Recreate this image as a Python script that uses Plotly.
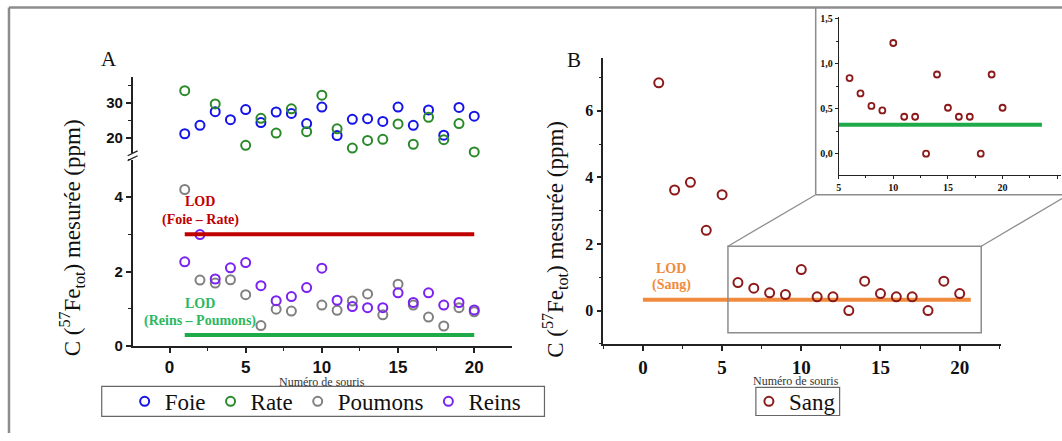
import plotly.graph_objects as go

W, H = 1062, 441

# ---------------- data ----------------
mice = list(range(1, 21))
foie = [21.2, 23.6, 27.5, 25.2, 28.1, 24.4, 27.4, 27.0, 24.1, 28.8,
        20.7, 25.3, 25.5, 24.7, 28.8, 23.6, 28.0, 20.8, 28.7, 26.2]
rate = [33.5, None, 29.7, None, 17.9, 25.6, 21.4, 28.3, 21.8, 32.2,
        22.6, 17.1, 19.3, 19.6, 24.0, 18.2, 25.9, 19.5, 24.1, 16.0]
poumons = [4.2, 1.77, 1.69, 1.78, 1.38, 0.55, 0.99, 0.94, None, 1.10,
           0.96, 1.21, 1.40, 0.84, 1.66, 1.10, 0.78, 0.54, 1.03, 0.92]
reins = [2.26, 2.99, 1.80, 2.10, 2.24, 1.62, 1.22, 1.33, 1.57, 2.09,
         1.23, 1.06, 1.03, 1.03, 1.43, 1.17, 1.43, 1.10, 1.17, 0.97]
sang = [6.84, 3.62, 3.85, 2.41, 3.48, 0.84, 0.67, 0.53, 0.48, 1.23,
        0.41, 0.41, 0.0, 0.88, 0.51, 0.41, 0.41, 0.0, 0.88, 0.51]
inset_mice = mice[5:]
inset_sang = sang[5:]

lod_foie_rate = 3.0
lod_reins_poumons = 0.3
lod_sang = 0.32
lod_x_A = [1, 20]
lod_x_B = [0, 20.7]
lod_x_inset = [5, 23.6]

x_ticks = [0, 5, 10, 15, 20]
yA_low_ticks = [0, 2, 4]
yA_up_ticks = [20, 30]
yB_ticks = [0, 2, 4, 6]
inset_xticks = [5, 10, 15, 20, 25]
inset_yticks = [0, 0.5, 1.0, 1.5]
inset_yticktext = ["0,0", "0,5", "1,0", "1,5"]

# ---------------- helpers ----------------
def PX(x):
    return x / W

def PY(y):
    return 1 - y / H

def bold(vals):
    return ["<b>%s</b>" % v for v in vals]

SERIF = "Liberation Serif"
SANS = "Liberation Sans"

C_FOIE = "#1414e8"
C_RATE = "#2a8a2a"
C_POUM = "#808080"
C_REIN = "#7a22f0"
C_SANG = "#8c1a1a"
C_LODR = "#c00000"
C_LODG = "#1faa4a"
C_LODO = "#f08a3c"

fig = go.Figure()

def pts(x, y, name, color, xa, ya, legend=None, showlegend=True, size=9, lw=2):
    m = dict(symbol="circle-open", size=size, color=color, line=dict(width=lw, color=color))
    tr = go.Scatter(x=x, y=y, name=name, mode="markers", marker=m, xaxis=xa, yaxis=ya,
                    showlegend=showlegend, cliponaxis=False)
    if legend:
        tr.legend = legend
    fig.add_trace(tr)

# Panel A
pts(mice, foie, "Foie", C_FOIE, "x", "y2", legend="legend")
pts(mice, rate, "Rate", C_RATE, "x", "y2", legend="legend")
pts(mice, poumons, "Poumons", C_POUM, "x", "y", legend="legend")
pts(mice, reins, "Reins", C_REIN, "x", "y", legend="legend")
fig.add_trace(go.Scatter(x=lod_x_A, y=[lod_foie_rate] * 2, mode="lines",
                         line=dict(color=C_LODR, width=4), xaxis="x", yaxis="y",
                         showlegend=False, hoverinfo="skip"))
fig.add_trace(go.Scatter(x=lod_x_A, y=[lod_reins_poumons] * 2, mode="lines",
                         line=dict(color=C_LODG, width=4), xaxis="x", yaxis="y",
                         showlegend=False, hoverinfo="skip"))
# Panel B
fig.add_trace(go.Scatter(x=lod_x_B, y=[lod_sang] * 2, mode="lines",
                         line=dict(color=C_LODO, width=4), xaxis="x2", yaxis="y3",
                         showlegend=False, hoverinfo="skip"))
pts(mice, sang, "Sang", C_SANG, "x2", "y3", legend="legend2")
# Inset
fig.add_trace(go.Scatter(x=lod_x_inset, y=[lod_sang] * 2, mode="lines",
                         line=dict(color=C_LODG, width=4), xaxis="x3", yaxis="y4",
                         showlegend=False, hoverinfo="skip"))
pts(inset_mice, inset_sang, "Sang", C_SANG, "x3", "y4", showlegend=False, size=6, lw=1.8)

axis_common = dict(showline=True, linecolor="#222", linewidth=1.5, ticks="outside",
                   ticklen=5, tickwidth=1.5, tickcolor="#222", showgrid=False,
                   zeroline=False)

def minor(d):
    return dict(dtick=d, tick0=0, ticks="outside", ticklen=3, tickwidth=1.2, tickcolor="#222")

fontA_x = dict(family=SANS, size=17, color="#111")
fontA_y = dict(family=SANS, size=15, color="#111")
fontB_x = dict(family=SERIF, size=19, color="#111")
fontB_y = dict(family=SERIF, size=16, color="#111")
fontI = dict(family=SERIF, size=10, color="#111")

fig.update_layout(
    width=W, height=H,
    margin=dict(l=0, r=0, t=0, b=0),
    paper_bgcolor="white", plot_bgcolor="rgba(0,0,0,0)",
    xaxis=dict(domain=[PX(130), PX(510)], range=[-2.42, 22.45], anchor="y",
               tickvals=x_ticks, ticktext=bold(x_ticks), tickfont=fontA_x,
               minor=minor(2.5), **axis_common),
    yaxis=dict(domain=[PY(351.7), PY(160)], range=[0, 5.0], anchor="x",
               tickvals=yA_low_ticks, ticktext=bold(yA_low_ticks), tickfont=fontA_y,
               minor=minor(1), **axis_common),
    yaxis2=dict(domain=[PY(153), PY(75)], range=[15.75, 37.4], anchor="x",
                tickvals=yA_up_ticks, ticktext=bold(yA_up_ticks), tickfont=fontA_y,
                minor=minor(5), **axis_common),
    xaxis2=dict(domain=[PX(602), PX(1000.7)], range=[-2.5, 22.6], anchor="y3",
                tickvals=x_ticks, ticktext=bold(x_ticks), tickfont=fontB_x,
                minor=minor(2.5), **axis_common),
    yaxis3=dict(domain=[PY(350), PY(55)], range=[-1.02, 7.6], anchor="x2",
                tickvals=yB_ticks, ticktext=bold(yB_ticks), tickfont=fontB_y,
                minor=minor(1), **axis_common),
    xaxis3=dict(domain=[PX(838), PX(1060.5)], range=[5, 25.3], anchor="y4",
                tickvals=inset_xticks, ticktext=bold(inset_xticks), tickfont=fontI,
                showline=True, linecolor="#222", linewidth=1, ticks="outside", ticklen=3,
                tickwidth=1, tickcolor="#222", showgrid=False, zeroline=False,
                minor=dict(dtick=2.5, tick0=0, ticks="outside", ticklen=2, tickwidth=1, tickcolor="#222")),
    yaxis4=dict(domain=[PY(176), PY(13.3)], range=[-0.24, 1.52], anchor="x3",
                tickvals=inset_yticks, ticktext=bold(inset_yticktext), tickfont=fontI,
                showline=True, linecolor="#222", linewidth=1, ticks="outside", ticklen=3,
                tickwidth=1, tickcolor="#222", showgrid=False, zeroline=False,
                minor=dict(dtick=0.25, tick0=0, ticks="outside", ticklen=2, tickwidth=1, tickcolor="#222")),
    legend=dict(orientation="h", x=PX(122), xanchor="left", y=PY(408.5), yanchor="middle",
                font=dict(family=SERIF, size=23, color="#111"), bgcolor="rgba(0,0,0,0)",
                borderwidth=0, itemwidth=30),
    legend2=dict(orientation="h", x=PX(748), xanchor="left", y=PY(408.5), yanchor="middle",
                 font=dict(family=SERIF, size=23, color="#111"), bgcolor="rgba(0,0,0,0)",
                 borderwidth=0, itemwidth=30),
    showlegend=True,
)

GRAY = "#8c8c8c"
shapes = [
    # outer frame
    dict(type="line", xref="paper", yref="paper", x0=PX(6), x1=PX(6), y0=0, y1=PY(3.5),
         line=dict(color=GRAY, width=2.5)),
    dict(type="line", xref="paper", yref="paper", x0=PX(6), x1=1, y0=PY(3.5), y1=PY(3.5),
         line=dict(color=GRAY, width=2.5)),
    # inset box
    dict(type="line", xref="paper", yref="paper", x0=PX(815), x1=PX(815), y0=PY(196), y1=PY(3.5),
         line=dict(color=GRAY, width=1.5)),
    dict(type="line", xref="paper", yref="paper", x0=PX(815), x1=1, y0=PY(196), y1=PY(196),
         line=dict(color=GRAY, width=1.5)),
    # zoom rectangle + connectors
    dict(type="rect", xref="paper", yref="paper", x0=PX(727), x1=PX(981), y0=PY(338), y1=PY(249),
         line=dict(color=GRAY, width=1.5)),
    dict(type="line", xref="paper", yref="paper", x0=PX(727), x1=PX(815), y0=PY(249), y1=PY(196),
         line=dict(color=GRAY, width=1.2)),
    dict(type="line", xref="paper", yref="paper", x0=PX(981), x1=PX(1062), y0=PY(249), y1=PY(200),
         line=dict(color=GRAY, width=1.2)),
    # legend boxes
    dict(type="rect", xref="paper", yref="paper", x0=PX(99), x1=PX(543), y0=PY(424), y1=PY(393),
         line=dict(color="#666", width=1.2)),
    dict(type="rect", xref="paper", yref="paper", x0=PX(755), x1=PX(839), y0=PY(423), y1=PY(394),
         line=dict(color="#666", width=1.2)),
    # axis break marks
    dict(type="line", xref="paper", yref="paper", x0=PX(125), x1=PX(135), y0=PY(156), y1=PY(151),
         line=dict(color="#222", width=1.3)),
    dict(type="line", xref="paper", yref="paper", x0=PX(125), x1=PX(135), y0=PY(161), y1=PY(156),
         line=dict(color="#222", width=1.3)),
]
fig.update_layout(shapes=shapes)

ylabel = "C (<sup>57</sup>Fe<sub>tot</sub>) mesurée (ppm)"
LBL = dict(family=SERIF, size=23, color="#111")
annotations = [
    dict(text=ylabel, x=PX(69), y=PY(240), textangle=-90, font=LBL),
    dict(text=ylabel, x=PX(553), y=PY(242), textangle=-90, font=LBL),
    dict(text="A", x=PX(106), y=PY(57), font=dict(family=SERIF, size=21, color="#111")),
    dict(text="B", x=PX(573), y=PY(58), font=dict(family=SERIF, size=21, color="#111")),
    dict(text="Numéro de souris", x=PX(320), y=PY(389), font=dict(family=SERIF, size=12, color="#333")),
    dict(text="Numéro de souris", x=PX(795), y=PY(388), font=dict(family=SERIF, size=12, color="#333")),
    dict(text="<b>LOD</b>", x=PX(198), y=PY(203), font=dict(family=SERIF, size=14, color=C_LODR)),
    dict(text="<b>(Foie – Rate)</b>", x=PX(198), y=PY(222), font=dict(family=SERIF, size=14, color=C_LODR)),
    dict(text="<b>LOD</b>", x=PX(198), y=PY(308), font=dict(family=SERIF, size=14, color="#2db860")),
    dict(text="<b>(Reins – Poumons)</b>", x=PX(198), y=PY(326), font=dict(family=SERIF, size=14, color="#2db860")),
    dict(text="<b>LOD</b>", x=PX(670), y=PY(272), font=dict(family=SERIF, size=14, color=C_LODO)),
    dict(text="<b>(Sang)</b>", x=PX(670), y=PY(289), font=dict(family=SERIF, size=14, color=C_LODO)),
]
for a in annotations:
    a.update(xref="paper", yref="paper", showarrow=False, xanchor="center", yanchor="middle")
fig.update_layout(annotations=annotations)

post = (
    "document.documentElement.style.margin='0';"
    "document.documentElement.style.height='441px';"
    "document.documentElement.style.overflow='hidden';"
    "document.body.style.margin='0';"
    "document.body.style.height='441px';"
    "document.body.style.overflow='hidden';"
    "var g=document.querySelector('.plotly-graph-div');"
    "if(g&&g.parentElement){g.parentElement.style.height='441px';g.parentElement.style.overflow='hidden';}"
)
fig.write_html("out.html", config={"displayModeBar": False}, post_script=post)
